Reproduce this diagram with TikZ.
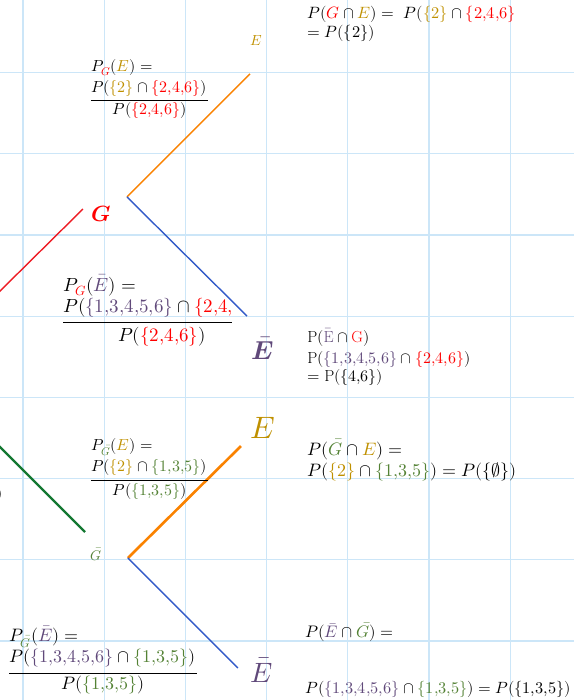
\documentclass[tikz,border=0pt]{standalone}
\usepackage{amsmath}
\usepackage{unicode-math}
\usepackage{xcolor}
\usepackage{tikz}
\usetikzlibrary{calc, positioning}

\definecolor{colG}{RGB}{255,0,0}
\definecolor{colE}{RGB}{191,144,0}
\definecolor{colEb}{RGB}{96,73,122}
\definecolor{colGb}{RGB}{84,130,53}
\definecolor{lineG}{RGB}{237,28,36}
\definecolor{lineGb}{RGB}{20,120,50}
\definecolor{lineE}{RGB}{250,130,0}
\definecolor{lineEb}{RGB}{50,90,200}
\definecolor{gridc}{RGB}{204,230,248}

\newcommand{\fsz}[1]{\fontsize{#1}{#1}\selectfont}
\newcommand{\chG}{\textcolor{colG}{G}}
\newcommand{\chE}{\textcolor{colE}{E}}
\newcommand{\chEb}{\textcolor{colEb}{\bar{E}}}
\newcommand{\chGb}{\textcolor{colGb}{\bar{G}}}
\newcommand{\setE}{\textcolor{colE}{\{2\}}}
\newcommand{\setG}{\textcolor{colG}{\{2{,}4{,}6\}}}
\newcommand{\setEb}{\textcolor{colEb}{\{1{,}3{,}4{,}5{,}6\}}}
\newcommand{\setGb}{\textcolor{colGb}{\{1{,}3{,}5\}}}

\tikzset{
    txt/.style={anchor=base west, inner sep=0pt},
    lbl/.style={inner sep=0pt},
    branch/.style={line width=1.4pt},
    fracbar/.style={line width=0.9pt}
}

\begin{document}
\begin{tikzpicture}[x=2.854cm, y=2.854cm, >=latex]
    % Khung và lưới
    \useasboundingbox (-0.283,-0.727) rectangle (6.786,7.894);
    \draw[gridc, line width=1.2pt, step=1] (-0.283,-0.727) grid (6.786,7.894);

    % Nhánh G
    \coordinate (r0) at (-0.5,4.095);
    \coordinate (r1) at (0.739,5.320);
    \draw[branch, lineG] (r0) -- (r1);
    \node[lbl, text=colG, font=\fsz{22}] (G) at (0.961,5.259) {$\symbfit{G}$};

    \coordinate (A) at (1.281,5.468);
    \coordinate (AE) at (2.796,6.983);
    \coordinate (AEb) at (2.759,4.002);
    \draw[branch, lineE] (A) -- (AE);
    \draw[branch, lineEb] (A) -- (AEb);
    \node[lbl, text=colE, font=\fsz{14.6}] (E1) at (2.869,7.389) {$E$};
    \node[lbl, text=colEb, font=\fsz{26}] (Eb1) at (2.956,3.608) {$\bar{\symbfit{E}}$};

    % Nhánh G ngang
    \coordinate (g0) at (-0.5,2.606);
    \coordinate (g1) at (0.764,1.342);
    \draw[lineGb, line width=2.4pt] (g0) -- (g1);
    \node[lbl, text=colGb, font=\fsz{14}] (Gb) at (0.899,1.071) {$\bar{G}$};
    \node[lbl, anchor=east, font=\fsz{16}] (cut) at (-0.252,1.798) {$)$};

    \coordinate (B) at (1.293,1.022);
    \coordinate (BE) at (2.685,2.401);
    \coordinate (BEb) at (2.648,-0.333);
    \draw[lineE, line width=2.6pt] (B) -- (BE);
    \draw[branch, lineEb] (B) -- (BEb);
    \node[lbl, text=colE, font=\fsz{31}] (E2) at (2.956,2.623) {$E$};
    \node[lbl, text=colEb, font=\fsz{28}] (Eb2) at (2.943,-0.357) {$\bar{E}$};

    % P(G n E)
    \node[txt, font=\fsz{16.4}] (ge1) at (3.50,7.66) {$P(\chG\cap\chE) = \ P(\setE\cap\setG$};
    \node[txt, font=\fsz{16.4}] (ge2) at (3.50,7.43) {$= P(\{2\})$};

    % P_G(E)
    \node[txt, font=\fsz{16}] (pge1) at (0.837,7.01) {$P_{\chG}(\chE) =$};
    \node[txt, font=\fsz{16}] (pge2) at (0.837,6.76) {$P(\setE\cap\setG)$};
    \draw[fracbar] (0.837,6.66) -- (2.278,6.66);
    \node[lbl, anchor=base, font=\fsz{16}] (pge3) at (1.558,6.48) {$P(\setG)$};

    % P_G(Eb)
    \node[txt, font=\fsz{19}] (pgeb1) at (0.493,4.31) {$P_{\chG}(\chEb) =$};
    \node[txt, font=\fsz{19}] (pgeb2) at (0.493,4.04) {$P(\setEb\cap\textcolor{colG}{\{2{,}4{,}}$};
    \draw[fracbar] (0.493,3.92) -- (2.574,3.92);
    \node[lbl, anchor=base, font=\fsz{19}] (pgeb3) at (1.712,3.69) {$P(\setG)$};

    % P(Eb n G)
    \node[txt, font=\fsz{16}] (ebg1) at (3.50,3.68) {$\mathrm{P}(\textcolor{colEb}{\bar{\mathrm{E}}}\cap\textcolor{colG}{\mathrm{G}})$};
    \node[txt, font=\fsz{16}] (ebg2) at (3.50,3.42) {$\mathrm{P}(\setEb\cap\setG)$};
    \node[txt, font=\fsz{16}] (ebg3) at (3.50,3.20) {$=\mathrm{P}(\{4{,}6\})$};

    % P_Gb(E)
    \node[txt, font=\fsz{16}] (pgbe1) at (0.837,2.34) {$P_{\chGb}(\chE) =$};
    \node[txt, font=\fsz{16}] (pgbe2) at (0.837,2.09) {$P(\setE\cap\setGb)$};
    \draw[fracbar] (0.837,1.98) -- (2.278,1.98);
    \node[lbl, anchor=base, font=\fsz{16}] (pgbe3) at (1.558,1.786) {$P(\setGb)$};

    % P(Gb n E)
    \node[txt, font=\fsz{18}] (gbe1) at (3.50,2.29) {$P(\chGb\cap\chE) =$};
    \node[txt, font=\fsz{18}] (gbe2) at (3.50,2.03) {$P(\setE\cap\setGb) = P(\{\emptyset\})$};

    % P_Gb(Eb)
    \node[txt, font=\fsz{18}] (pgbeb1) at (-0.172,-0.012) {$P_{\chGb}(\chEb) =$};
    \node[txt, font=\fsz{18}] (pgbeb2) at (-0.172,-0.27) {$P(\setEb\cap\setGb)$};
    \draw[fracbar] (-0.172,-0.406) -- (2.143,-0.406);
    \node[lbl, anchor=base, font=\fsz{18}] (pgbeb3) at (0.985,-0.60) {$P(\setGb)$};

    % P(Eb n Gb)
    \node[txt, font=\fsz{16.7}] (ebgb1) at (3.475,0.037) {$P(\chEb\cap\chGb) =$};
    \node[txt, font=\fsz{16.3}] (ebgb2) at (3.475,-0.65) {$P(\setEb\cap\setGb) = P(\{1{,}3{,}5\})$};
\end{tikzpicture}
\end{document}
